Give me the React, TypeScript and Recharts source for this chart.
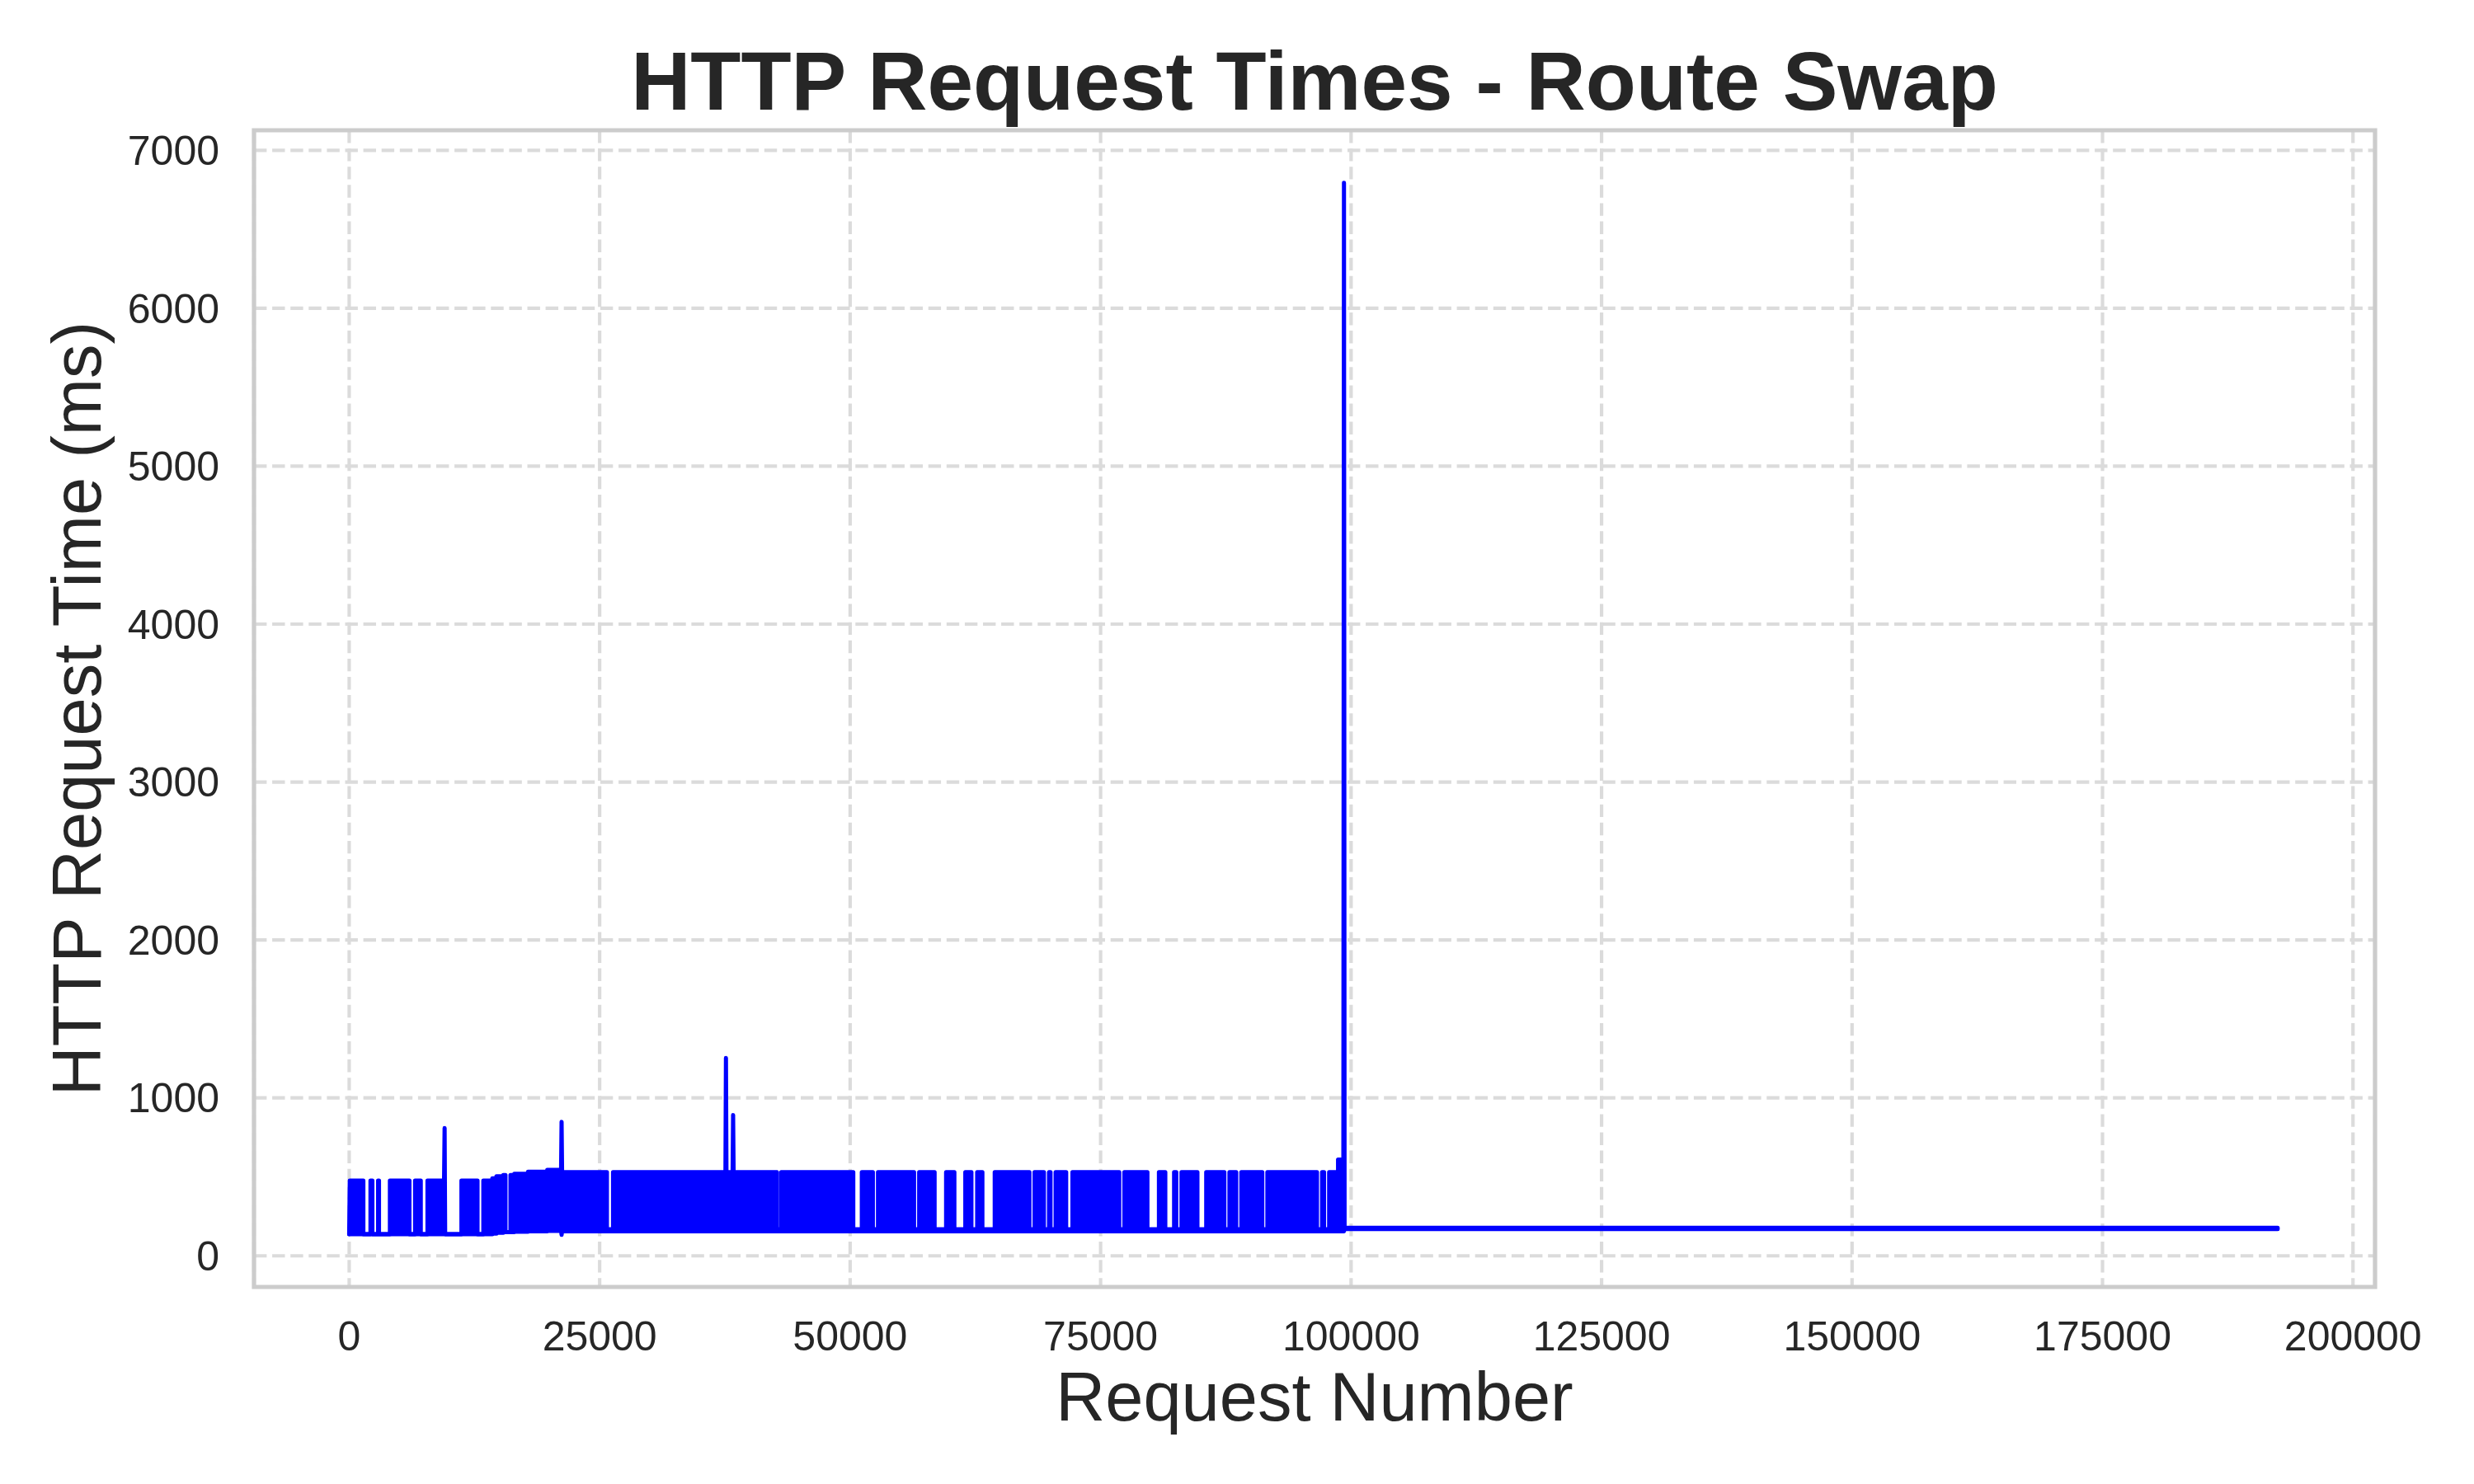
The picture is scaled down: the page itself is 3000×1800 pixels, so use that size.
import React from 'react';
import { ComposedChart, Area, XAxis, YAxis, CartesianGrid, ReferenceArea } from 'recharts';

const FONT = '"Liberation Sans", Arial, Helvetica, sans-serif';
const TEXT = '#262626';

const chartTitle = 'HTTP Request Times - Route Swap';
const xAxisTitle = 'Request Number';
const yAxisTitle = 'HTTP Request Time (ms)';

const xTicks = [0, 25000, 50000, 75000, 100000, 125000, 150000, 175000, 200000];
const yTicks = [0, 1000, 2000, 3000, 4000, 5000, 6000, 7000];
const xDomain: [number, number] = [-9500, 202200];
const yDomain: [number, number] = [-197, 7127];

// Envelope keypoints of the dense request-time trace:
// [request number, min ms, max ms, resting ms]
const envelope: [number, number, number, number][] = [
  [0, 137, 137, 137],
  [60, 137, 476, 137],
  [9470, 137, 476, 137],
  [9525, 137, 809, 137],
  [9580, 137, 137, 137],
  [11205, 137, 137, 137],
  [11205, 137, 476, 137],
  [14290, 137, 476, 137],
  [14290, 141, 491, 141],
  [14700, 141, 491, 141],
  [14700, 146, 504, 146],
  [15380, 146, 504, 146],
  [15380, 150, 512, 150],
  [16480, 150, 512, 150],
  [16480, 153, 519, 153],
  [17850, 153, 519, 153],
  [17850, 156, 533, 156],
  [19770, 156, 533, 156],
  [19770, 158, 544, 158],
  [21150, 158, 544, 158],
  [21200, 133, 849, 158],
  [21250, 156, 530, 168],
  [37555, 156, 530, 168],
  [37605, 156, 1253, 168],
  [37655, 156, 530, 168],
  [38270, 156, 530, 168],
  [38320, 156, 892, 168],
  [38370, 156, 530, 168],
  [98700, 156, 530, 168],
  [98700, 156, 610, 168],
  [99230, 156, 610, 168],
  [99290, 156, 6794, 168],
  [99350, 170, 178, 178],
  [192480, 170, 178, 178],
];

// Stretches where the trace rests at its resting level (white stripes in the band)
const pauseStart = [
  1415, 2315, 2975, 6015, 7145, 12810, 15600, 25725, 42690, 50313,
  52270, 56380, 58430, 60403, 62106, 63200, 67895, 69340, 70000, 71563,
  76860, 79672, 81456, 82550, 84663, 87350, 88535, 91135, 96595, 97300,
];
const pauseEnd = [
  2125, 2885, 4065, 6575, 7815, 13390, 16100, 26335, 43120, 51167,
  52780, 56890, 59580, 61496, 62680, 64432, 68405, 69850, 70510, 72187,
  77370, 80822, 82335, 83075, 85542, 87860, 89045, 91645, 97105, 97810,
];

type Row = { x: number; band: [number, number] };

function buildRows(): Row[] {
  const rows: Row[] = envelope.map(([x, lo, hi]) => ({ x, band: [lo, hi] as [number, number] }));
  pauseStart.forEach((s, i) => {
    const e = pauseEnd[i];
    let prev = envelope[0];
    for (const k of envelope) if (k[0] <= s) prev = k;
    const [, lo, hi, rest] = prev;
    rows.push(
      { x: s, band: [lo, hi] },
      { x: s, band: [lo, rest] },
      { x: e, band: [lo, rest] },
      { x: e, band: [lo, hi] },
    );
  });
  return rows
    .map((r, i) => ({ r, i }))
    .sort((a, b) => a.r.x - b.r.x || a.i - b.i)
    .map((o) => o.r);
}

const data = buildRows();

export default function App() {
  return (
    <div style={{ position: 'absolute', left: 0, top: 0, width: 3000, height: 1800, background: '#ffffff' }}>
      <ComposedChart
        width={3000}
        height={1800}
        data={data}
        margin={{ top: 158, right: 120, bottom: 0, left: 0 }}
      >
        <CartesianGrid stroke="#dbdbdb" strokeDasharray="15.4 6.7" strokeWidth={4.17} />
        <XAxis
          dataKey="x"
          type="number"
          domain={xDomain}
          ticks={xTicks}
          allowDataOverflow
          interval={0}
          height={239}
          axisLine={false}
          tickLine={false}
          tickSize={0}
          tickMargin={41}
          tick={{ fontSize: 50, fill: TEXT, fontFamily: FONT }}
        />
        <YAxis
          type="number"
          domain={yDomain}
          ticks={yTicks}
          allowDataOverflow
          interval={0}
          width={308}
          axisLine={false}
          tickLine={false}
          tickSize={0}
          tickMargin={42}
          tick={{ fontSize: 50, fill: TEXT, fontFamily: FONT }}
        />
        <Area
          type="linear"
          dataKey="band"
          stroke="#0000ff"
          strokeWidth={5}
          strokeLinejoin="round"
          strokeLinecap="round"
          fill="#0000ff"
          fillOpacity={1}
          dot={false}
          activeDot={false}
          isAnimationActive={false}
        />
        <ReferenceArea
          x1={xDomain[0]}
          x2={xDomain[1]}
          y1={yDomain[0]}
          y2={yDomain[1]}
          fill="none"
          fillOpacity={0}
          stroke="#cccccc"
          strokeWidth={5.2}
          ifOverflow="visible"
        />
      </ComposedChart>
      <svg
        width={3000}
        height={1800}
        style={{ position: 'absolute', left: 0, top: 0, pointerEvents: 'none' }}
      >
        <text x={1594} y={133} textAnchor="middle" fontFamily={FONT} fontWeight="bold" fontSize={100} fill={TEXT}>
          {chartTitle}
        </text>
        <text x={1594} y={1723} textAnchor="middle" fontFamily={FONT} fontSize={83} fill={TEXT}>
          {xAxisTitle}
        </text>
        <text
          transform="translate(122, 859.5) rotate(-90)"
          textAnchor="middle"
          fontFamily={FONT}
          fontSize={83}
          fill={TEXT}
        >
          {yAxisTitle}
        </text>
      </svg>
    </div>
  );
}
